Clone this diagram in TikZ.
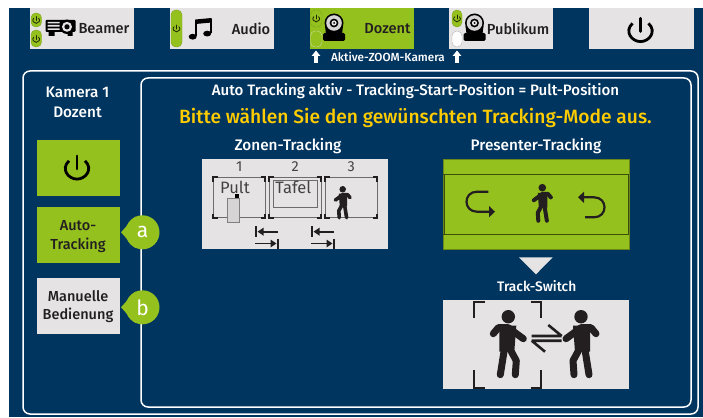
\documentclass[tikz,border=0pt]{standalone}
\usepackage{fontspec}
\setmainfont{Fira Sans}[BoldFont={Fira Sans Medium}]
\usetikzlibrary{arrows.meta}
\definecolor{navy}{HTML}{003560}
\definecolor{lime}{HTML}{95C11F}
\definecolor{lgrey}{HTML}{E5E3E4}
\definecolor{ink}{HTML}{231F20}
\definecolor{gold}{HTML}{FFCC00}
\newcommand{\fs}[1]{\fontsize{#1}{#1}\selectfont}
\tikzset{
  x=1pt,y=-1pt,
  btn/.style={inner sep=0,outer sep=0,fill=lgrey,anchor=north west},
  gbtn/.style={btn,fill=lime},
  txt/.style={inner sep=0,font=\fs{14.5}\bfseries,text=ink},
  wtxt/.style={inner sep=0,text=white,font=\fs{15.3}\bfseries},
  pill/.style={fill=lime,draw=lime!85!black,line width=.4pt,rounded corners=4.8pt},
  wpill/.style={fill=white!92!lgrey,draw=lgrey!80!black,line width=.4pt,rounded corners=4.8pt},
  frame/.style={draw=white,line width=1.5pt,rounded corners=7pt},
  thin box/.style={draw=gray!85!black,line width=.7pt},
  corner/.style={draw=ink,line width=1.8pt},
  pics/power/.style={code={
    \draw[line cap=round] (0,-8) -- (0,1);
    \draw (-5.5,-4.6) .. controls (-11.5,1) and (-6,8) .. (0,8) .. controls (6,8) and (11.5,1) .. (5.5,-4.6);
  }},
  pics/person/.style={code={
    \fill (0,0) circle (6.7);
    \draw[line cap=round,line join=round,fill=none] (-15,17) -- (-10,11) -- (0,11) -- (15,22);
    \fill[draw=none] (-9,9) -- (8,9) -- (6,35) -- (-9,35) -- cycle;
    \draw[line cap=round,line join=round,fill=none] (-4,33) -- (-8,58);
    \draw[line cap=round,line join=round,fill=none] (2,33) -- (8,44) -- (7,58);
  }},
  pics/camera/.style={code={
    \fill[black,rounded corners=1.5pt] (-11,18) rectangle (11,26);
    \fill[black] (-8,19) -- (-9,11) -- (9,11) -- (8,19) -- cycle;
    \fill[black] (0,8) circle (9.5);
    \fill[lgrey!85!gray] (0,8) circle (7.8);
    \fill[black] (0,8) circle (4.4);
    \fill[lgrey] (0,8) circle (2.6);
    \fill[black] (0,8) circle (1);
  }},
  pics/projector/.style={code={
    \fill[black,rounded corners=1pt] (0,0) rectangle (30,12);
    \fill[lgrey] (2,1.8) rectangle (14,3.3) (2,5) rectangle (14,6.6) (2,8.3) rectangle (14,9.8);
    \fill[black] (3,12) rectangle (9,16) (22,12) rectangle (27,16);
    \fill[black] (21.5,6.8) circle (7.2);
    \fill[lgrey] (21.5,6.8) circle (5);
    \fill[black] (21.5,6.8) circle (2.6);
  }}
}
\begin{document}
\begin{tikzpicture}
\useasboundingbox (0,0) rectangle (703,417);
\fill[white] (0,0) rectangle (703,417);
\fill[navy] (9,8) rectangle (703,417);

% top buttons
\node[btn,minimum width=104pt,minimum height=41pt] (bBeamer) at (30,8) {};
\node[btn,minimum width=104pt,minimum height=41pt] (bAudio) at (170,8) {};
\node[gbtn,minimum width=104pt,minimum height=41pt] (bDozent) at (310,8) {};
\node[btn,minimum width=104pt,minimum height=41pt] (bPublikum) at (449,8) {};
\node[btn,minimum width=105pt,minimum height=41pt] (bOff) at (589,8) {};

\node[txt,font=\fs{14.6}\bfseries] (tBeamer) at (104,29) {Beamer};
\node[txt,font=\fs{14.6}\bfseries] (tAudio) at (251,29) {Audio};
\node[txt,font=\fs{14.6}\bfseries] (tDozent) at (387.5,29) {Dozent};
\node[txt,font=\fs{14.6}\bfseries] (tPublikum) at (518,29) {Publikum};

\draw[pill] (31,13) rectangle (41.5,27);
\draw[pill] (31,30) rectangle (41.5,47);
\draw[pill] (171,10) rectangle (182,47);
\draw[pill] (310.5,10) rectangle (322,27);
\draw[pill,draw=lgrey!70!lime] (310.5,31) rectangle (322,47);
\draw[pill] (452,10) rectangle (462,27);
\draw[wpill] (452,31) rectangle (462,47);

\foreach \px/\py in {36.2/20,36.2/39,176.5/28.5,316.2/18.5,457/18.5}
  \pic[scale=.42,line width=.8pt,draw=black!80!lime,fill=none] at (\px,\py) {power};

% icons
\pic[black] at (45.5,20) {projector};
\pic at (334,15) {camera};
\pic at (474.5,15) {camera};
\pic[scale=1.45,line width=2.8pt,draw=black] at (640.5,30) {power};
\begin{scope}[black]
\fill (192.7,36.7) ellipse (4 and 2.9);
\fill (207.2,33.6) ellipse (4 and 2.9);
\fill (195.4,36) -- (195.4,20) -- (197.4,20) -- (197.4,36) -- cycle;
\fill (209.6,33) -- (209.6,19) -- (211.6,19) -- (211.6,33) -- cycle;
\fill (195.4,19.5) -- (211.6,18) -- (211.6,22.5) -- (195.4,24) -- cycle;
\end{scope}

% active label and arrows
\node[wtxt,font=\fs{11.7}\bfseries] (tZoom) at (388,57) {Aktive-ZOOM-Kamera};
\coordinate (upAa) at (316,63); \coordinate (upAb) at (316,50.5);
\coordinate (upBa) at (457,63); \coordinate (upBb) at (457,50.5);
\draw[white,line width=3.2pt,-{Triangle[width=8.5pt,length=5.5pt]}] (upAa) -- (upAb);
\draw[white,line width=3.2pt,-{Triangle[width=8.5pt,length=5.5pt]}] (upBa) -- (upBb);

% frames
\draw[frame] (23,71) rectangle (698,414);
\draw[frame] (141,78) rectangle (691,407);

% left column
\node[wtxt] (tKam) at (77.5,92) {Kamera 1};
\node[wtxt] (tDoz) at (77.5,112) {Dozent};
\node[gbtn,minimum width=83pt,minimum height=56pt] (bPow) at (36.5,139.5) {};
\pic[scale=1.45,line width=2.8pt,draw=black] at (77,167.5) {power};
\node[gbtn,minimum width=83pt,minimum height=56pt] (bAuto) at (36.5,207) {};
\node[txt] (tAuto) at (78,225.7) {Auto-};
\node[txt] (tTrack) at (78,245) {Tracking};
\node[btn,minimum width=83pt,minimum height=56pt] (bMan) at (36.5,277.5) {};
\node[txt] (tMan) at (78,296) {Manuelle};
\node[txt] (tBed) at (78,315.7) {Bedienung};

% callouts
\foreach \cy/\lab in {232.3/a,307.3/b}{
  \fill[lime] (121,\cy) -- (135,\cy-15.5) -- (150,\cy-15) -- (150,\cy+15) -- (135,\cy+15.5) -- cycle;
  \fill[lime] (142.5,\cy) circle (17);
  \node[inner sep=0,text=white,font=\fs{21}] (call\lab) at (142.5,\cy) {\lab};
}

% headings
\node[wtxt,font=\fs{15.1}\bfseries] (tHead) at (415.5,91) {Auto Tracking aktiv - Tracking-Start-Position = Pult-Position};
\node[inner sep=0,text=gold,font=\fs{19.2}\bfseries] (tMode) at (415.5,118) {Bitte wählen Sie den gewünschten Tracking-Mode aus.};
\node[wtxt] (tZone) at (288,146) {Zonen-Tracking};
\node[wtxt] (tPres) at (536,146) {Presenter-Tracking};

% zone tracking panel
\node[btn,minimum width=186pt,minimum height=90pt] (pZone) at (202.3,159.3) {};
\foreach \xa/\xb/\n in {213.3/265/1,269.3/321/2,325.3/377.3/3}{
  \draw[thin box] (\xa,177.3) rectangle (\xb,217.7);
  \draw[corner] (\xa,181.5) -- (\xa,177.3) -- (\xa+4.5,177.3);
  \draw[corner] (\xb-4.5,177.3) -- (\xb,177.3) -- (\xb,181.5);
  \draw[corner] (\xa,213.5) -- (\xa,217.7) -- (\xa+4.5,217.7);
  \draw[corner] (\xb-4.5,217.7) -- (\xb,217.7) -- (\xb,213.5);
  \node[inner sep=0,text=ink!85,font=\fs{14.5}] (num\n) at ({(\xa+\xb)/2},166.5) {\n};
}
\draw[thin box] (273.7,180) rectangle (317,207.3);
\node[inner sep=0,text=ink!85,font=\fs{16.5}] (tPult) at (235,187.7) {Pult};
\node[inner sep=0,text=ink!85,font=\fs{16.5}] (tTafel) at (293.3,187.7) {Tafel};
\fill[black] (234.5,194) rectangle (239,198.5);
\draw[fill=lgrey!85!gray,draw=gray,line width=.7pt] (227.7,198.3) rectangle (239.7,222.7);
\pic[draw=ink,fill=ink,line width=3.6pt,scale=.49,xscale=-1] at (342.7,189.3) {person};

\foreach \dx in {0,56}{
  \draw[ink,line width=1.9pt] (256+\dx,226) -- (256+\dx,237);
  \draw[ink,line width=1.9pt,-{Triangle[length=6pt,width=7.5pt]}] (278+\dx,231.7) -- (257.5+\dx,231.7);
  \draw[ink,line width=1.9pt] (278+\dx,238.5) -- (278+\dx,249);
  \draw[ink,line width=1.9pt,-{Triangle[length=6pt,width=7.5pt]}] (255+\dx,243.5) -- (276.5+\dx,243.5);
}

% presenter tracking panel
\node[gbtn,draw=lime!70!black,line width=.5pt,minimum width=186pt,minimum height=90pt] (pPres) at (443,159.3) {};
\draw[black!60!lime,line width=.9pt] (443,174.3) -- (629.3,174.3);
\draw[black!60!lime,line width=.9pt] (443,234.3) -- (629.3,234.3);
\draw[black!60!lime,line width=.9pt] (444,174.3) -- (444,234.3);
\draw[black!60!lime,line width=.9pt] (628.8,174.3) -- (628.8,234.3);
\pic[draw=ink,fill=ink,line width=4pt,scale=.57,xscale=-1] at (542.3,187.7) {person};
\draw[ink,line width=2.2pt,-{Triangle[length=6pt,width=11pt]}] (488.3,191.7) -- (477,191.7) .. controls (463,191.7) and (463,211.7) .. (477,211.7) -- (495,211.7);
\draw[ink,line width=2.2pt,-{Triangle[length=6pt,width=11pt]}] (585,217.3) -- (594,217.3) .. controls (608,217.3) and (608,197.3) .. (594,197.3) -- (578,197.3);

% track switch
\fill[lgrey] (519,257.3) -- (552.7,257.3) -- (536,274.3) -- cycle;
\node[wtxt,font=\fs{13.8}\bfseries] (tSwitch) at (536.7,285.7) {Track-Switch};
\node[btn,minimum width=186pt,minimum height=89.3pt] (pSwitch) at (443,300) {};
\draw[ink,line width=2pt] (474,318) -- (474,302) -- (484.5,302);
\draw[ink,line width=2pt] (530.5,302) -- (540.7,302) -- (540.7,318);
\draw[ink,line width=2pt] (474,370) -- (474,388) -- (484.5,388);
\draw[ink,line width=2pt] (530.5,388) -- (540.7,388) -- (540.7,370);
\pic[draw=ink,fill=ink,line width=7pt] at (508.3,316.7) {person};
\pic[draw=ink,fill=ink,line width=7pt,xscale=-1] at (581,316.7) {person};
\draw[ink,line width=2.6pt] (531.7,336) -- (561.7,336) (548.3,325) -- (561.7,336);
\draw[ink,line width=2.6pt] (531.7,340.7) -- (561.7,340.7) (531.7,340.7) -- (545,351.7);
\end{tikzpicture}
\end{document}
